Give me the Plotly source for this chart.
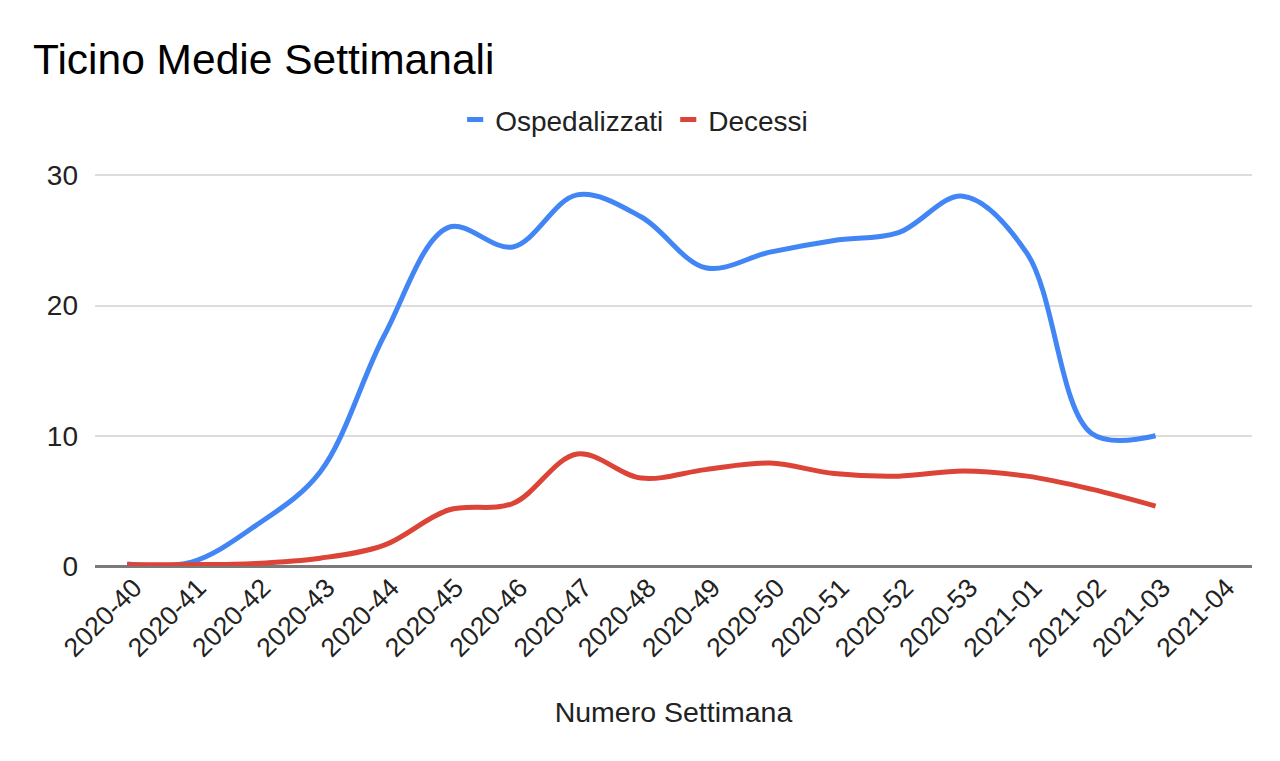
import plotly.graph_objects as go

weeks = ["2020-40", "2020-41", "2020-42", "2020-43", "2020-44", "2020-45",
         "2020-46", "2020-47", "2020-48", "2020-49", "2020-50", "2020-51",
         "2020-52", "2020-53", "2021-01", "2021-02", "2021-03", "2021-04"]

ospedalizzati = [0.15, 0.3, 3.1, 7.2, 17.7, 26.0, 24.5, 28.5, 26.8, 22.9,
                 24.1, 25.0, 25.6, 28.4, 24.0, 10.2, 10.0]
decessi = [0.1, 0.1, 0.2, 0.6, 1.6, 4.3, 4.8, 8.6, 6.75, 7.4,
           7.9, 7.1, 6.9, 7.3, 6.9, 5.9, 4.6]

series_names = ["Ospedalizzati", "Decessi"]
series_colors = ["#4285F4", "#DB4437"]

FONT = "Liberation Sans, Arial, sans-serif"

fig = go.Figure()
for name, vals, col in zip(series_names, [ospedalizzati, decessi], series_colors):
    fig.add_trace(go.Scatter(
        x=weeks[:len(vals)], y=vals, name=name, showlegend=False,
        mode="lines", line=dict(color=col, width=5, shape="spline", smoothing=1.0),
    ))
# legend entries drawn as short thick bars, like the reference
for name, col in zip(series_names, series_colors):
    fig.add_trace(go.Scatter(
        x=[None], y=[None], name=name, mode="markers", showlegend=True,
        marker=dict(symbol="line-ew", size=11.5, color=col,
                    line=dict(color=col, width=6)),
    ))

fig.update_layout(
    width=1280, height=761,
    paper_bgcolor="white", plot_bgcolor="white",
    margin=dict(l=87, r=36, t=166, b=203),
    font=dict(family=FONT, color="#222222"),
    title=dict(text="Ticino Medie Settimanali", x=25/1280, xanchor="left",
               y=1 - 51/761, yanchor="middle",
               font=dict(size=42.5, color="#000000", family=FONT)),
    legend=dict(orientation="h", x=0.466, xanchor="center", y=1.138, yanchor="middle",
                font=dict(size=28, color="#222222"), itemwidth=30,
                traceorder="normal"),
    showlegend=True,
)

fig.update_xaxes(
    type="category", categoryorder="array", categoryarray=weeks,
    tickmode="array", tickvals=weeks, ticktext=weeks,
    range=[-0.5, len(weeks) - 0.5],
    tickangle=-45, tickfont=dict(size=26.5, color="#222222"),
    ticklabelshift=7,
    showgrid=False, showline=False, ticks="",
    title=dict(text="Numero Settimana", font=dict(size=28.5, color="#222222"), standoff=40),
)
fig.update_yaxes(
    range=[0, 30.1], tickvals=[0, 10, 20, 30],
    tickfont=dict(size=28, color="#222222"),
    showgrid=True, gridcolor="#dddddd", gridwidth=1.5,
    zeroline=True, zerolinecolor="#7a7a7a", zerolinewidth=2.5,
    ticks="", ticklabelstandoff=16,
)

fig.write_html("out.html")
